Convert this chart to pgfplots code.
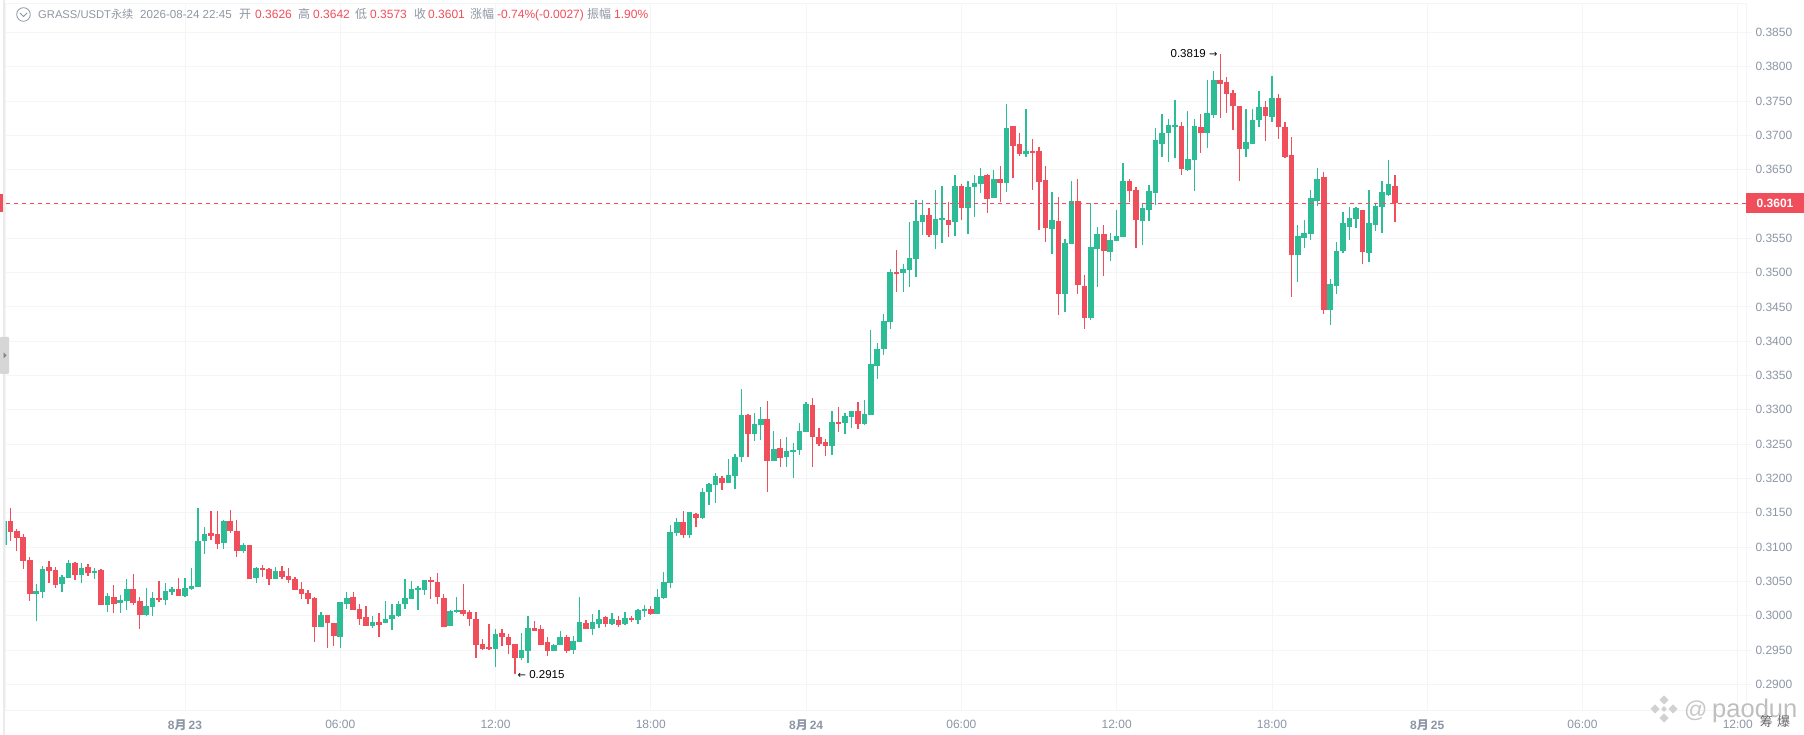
\documentclass[border=0pt]{standalone}
\usepackage{fontspec}
\usepackage{pgfplots}
\usepackage{pgfplotstable}
\pgfplotsset{compat=1.18}
\setmainfont{Liberation Sans}
\newfontfamily\cjk{Noto Sans CJK SC}
\newfontfamily\djv{DejaVu Sans}
\definecolor{upc}{HTML}{2DBD96}
\definecolor{dnc}{HTML}{F14E5B}
\definecolor{gridc}{HTML}{F4F5F6}
\definecolor{labc}{HTML}{8C96A6}
\definecolor{hdrc}{HTML}{8F97A3}
% i open high low close
\pgfplotstableread{
i o h l c
0 .3103 .3138 .3103 .3138
5 .3032 .3046 .2992 .3036
6 .3035 .3072 .3026 .3068
9 .3046 .3059 .3035 .3056
10 .3055 .3081 .3055 .3077
12 .3059 .3077 .3048 .3070
14 .3062 .3069 .3054 .3065
16 .3016 .3033 .3006 .3029
18 .3019 .3030 .3004 .3023
19 .3022 .3054 .3008 .3039
22 .3001 .3040 .3000 .3014
23 .3013 .3034 .3000 .3026
25 .3023 .3048 .3016 .3036
26 .3035 .3042 .3030 .3039
28 .3029 .3055 .3027 .3040
29 .3039 .3070 .3037 .3043
30 .3042 .3157 .3042 .3109
31 .3109 .3129 .3090 .3119
34 .3106 .3139 .3097 .3138
37 .3094 .3106 .3091 .3103
39 .3055 .3071 .3048 .3070
42 .3054 .3071 .3054 .3065
49 .2984 .3005 .2984 .3001
52 .2969 .3020 .2953 .3020
53 .3017 .3035 .3010 .3026
57 .2985 .3000 .2982 .2991
59 .2989 .3021 .2989 .2995
60 .2995 .3017 .2979 .3001
61 .3000 .3021 .2998 .3017
62 .3017 .3054 .3010 .3026
63 .3024 .3051 .3024 .3039
64 .3038 .3044 .3008 .3041
65 .3038 .3052 .3030 .3052
69 .2985 .3008 .2985 .3007
70 .3005 .3027 .3004 .3008
76 .2951 .2980 .2925 .2973
80 .2938 .2975 .2935 .2950
81 .2948 .3000 .2931 .2982
85 .2948 .2959 .2948 .2957
86 .2957 .2978 .2957 .2969
88 .2950 .2970 .2944 .2963
89 .2962 .3027 .2962 .2991
91 .2981 .3003 .2972 .2991
92 .2988 .3008 .2982 .2995
94 .2988 .3004 .2986 .2995
96 .2988 .3005 .2986 .2997
98 .2994 .3010 .2988 .3008
99 .3007 .3016 .2998 .3010
101 .3003 .3039 .3003 .3027
102 .3026 .3064 .3024 .3049
103 .3047 .3132 .3040 .3122
104 .3120 .3143 .3116 .3136
106 .3117 .3151 .3113 .3151
108 .3143 .3186 .3141 .3180
109 .3180 .3194 .3161 .3192
110 .3190 .3208 .3164 .3203
112 .3194 .3228 .3194 .3205
113 .3203 .3235 .3185 .3232
114 .3231 .3331 .3224 .3292
116 .3265 .3295 .3254 .3279
117 .3278 .3304 .3256 .3286
119 .3225 .3269 .3225 .3243
121 .3231 .3260 .3216 .3240
122 .3238 .3251 .3201 .3241
123 .3241 .3281 .3234 .3269
124 .3267 .3311 .3267 .3308
128 .3248 .3299 .3234 .3282
130 .3281 .3295 .3265 .3291
131 .3289 .3299 .3273 .3299
133 .3279 .3314 .3278 .3294
134 .3293 .3416 .3293 .3367
135 .3364 .3398 .3345 .3389
136 .3389 .3440 .3380 .3429
137 .3428 .3505 .3418 .3501
139 .3499 .3512 .3472 .3505
140 .3504 .3573 .3479 .3521
141 .3520 .3605 .3493 .3575
142 .3573 .3605 .3555 .3584
144 .3555 .3621 .3534 .3578
145 .3576 .3626 .3543 .3579
147 .3573 .3642 .3553 .3626
149 .3594 .3633 .3556 .3624
150 .3624 .3642 .3581 .3630
151 .3629 .3652 .3616 .3640
153 .3608 .3649 .3608 .3637
155 .3630 .3745 .3617 .3710
158 .3672 .3739 .3669 .3677
162 .3563 .3617 .3527 .3576
164 .3469 .3549 .3443 .3543
165 .3541 .3633 .3541 .3604
168 .3434 .3601 .3431 .3537
169 .3534 .3567 .3479 .3556
171 .3530 .3557 .3517 .3547
172 .3546 .3591 .3546 .3553
173 .3552 .3659 .3552 .3633
176 .3575 .3601 .3540 .3594
177 .3591 .3627 .3575 .3619
178 .3616 .3710 .3598 .3693
179 .3688 .3731 .3668 .3703
180 .3703 .3723 .3661 .3715
181 .3712 .3751 .3667 .3715
183 .3649 .3736 .3648 .3665
184 .3664 .3723 .3619 .3713
186 .3704 .3780 .3681 .3732
187 .3729 .3793 .3725 .3780
192 .3680 .3739 .3668 .3690
193 .3688 .3738 .3687 .3722
194 .3722 .3764 .3712 .3741
196 .3726 .3787 .3719 .3755
200 .3525 .3570 .3486 .3553
201 .3551 .3576 .3536 .3557
202 .3556 .3620 .3548 .3608
203 .3604 .3652 .3597 .3636
205 .3445 .3490 .3424 .3483
206 .3481 .3544 .3469 .3532
207 .3531 .3588 .3528 .3572
208 .3567 .3595 .3547 .3579
209 .3578 .3595 .3565 .3594
211 .3528 .3621 .3516 .3572
212 .3569 .3601 .3561 .3597
213 .3595 .3633 .3558 .3617
214 .3613 .3664 .3611 .3629
}\upTable
\pgfplotstableread{
i o h l c
1 .3138 .3157 .3109 .3122
2 .3123 .3126 .3094 .3113
3 .3115 .3119 .3068 .3080
4 .3081 .3085 .3022 .3032
7 .3071 .3080 .3048 .3065
8 .3067 .3071 .3041 .3045
11 .3077 .3078 .3052 .3059
13 .3071 .3075 .3058 .3062
15 .3067 .3068 .3016 .3016
17 .3027 .3045 .3004 .3017
20 .3039 .3061 .3016 .3019
21 .3022 .3027 .2981 .3001
24 .3026 .3051 .3020 .3023
27 .3039 .3055 .3029 .3029
32 .3120 .3152 .3110 .3116
33 .3119 .3152 .3097 .3104
35 .3138 .3154 .3120 .3123
36 .3123 .3139 .3086 .3094
38 .3103 .3103 .3054 .3054
40 .3070 .3074 .3056 .3067
41 .3068 .3070 .3045 .3054
43 .3065 .3072 .3054 .3056
44 .3058 .3070 .3048 .3052
45 .3054 .3056 .3038 .3038
46 .3039 .3049 .3024 .3032
47 .3033 .3038 .3017 .3024
48 .3026 .3027 .2962 .2984
50 .3001 .3001 .2953 .2990
51 .2990 .2990 .2956 .2971
54 .3027 .3034 .3008 .3008
55 .3010 .3017 .2986 .2995
56 .2998 .3014 .2985 .2985
58 .2991 .3004 .2969 .2986
66 .3052 .3056 .3024 .3049
67 .3049 .3063 .3017 .3027
68 .3026 .3032 .2984 .2984
71 .3008 .3046 .3000 .3003
72 .3005 .3008 .2985 .2995
73 .2995 .3005 .2938 .2957
74 .2959 .2966 .2950 .2951
75 .2954 .2988 .2950 .2951
77 .2975 .2981 .2956 .2969
78 .2969 .2973 .2944 .2957
79 .2959 .2959 .2915 .2938
82 .2982 .2992 .2978 .2978
83 .2981 .2986 .2957 .2957
84 .2962 .2969 .2941 .2948
87 .2969 .2972 .2946 .2948
90 .2989 .2994 .2981 .2981
93 .2998 .3000 .2984 .2988
95 .2994 .3000 .2984 .2986
97 .2997 .3000 .2991 .2994
100 .3010 .3014 .3001 .3003
105 .3136 .3152 .3114 .3117
107 .3148 .3149 .3130 .3142
111 .3200 .3203 .3183 .3194
115 .3292 .3294 .3231 .3265
118 .3286 .3313 .3181 .3225
120 .3244 .3257 .3217 .3230
125 .3307 .3317 .3217 .3260
126 .3260 .3273 .3247 .3250
127 .3253 .3257 .3233 .3248
129 .3282 .3304 .3268 .3279
132 .3299 .3311 .3272 .3279
138 .3501 .3533 .3472 .3498
143 .3584 .3594 .3552 .3555
146 .3576 .3603 .3552 .3570
148 .3626 .3629 .3576 .3594
152 .3642 .3643 .3587 .3607
154 .3636 .3655 .3603 .3630
156 .3713 .3713 .3638 .3685
157 .3687 .3704 .3670 .3672
159 .3677 .3694 .3621 .3674
160 .3677 .3683 .3562 .3632
161 .3635 .3655 .3544 .3565
163 .3575 .3610 .3438 .3469
166 .3604 .3637 .3469 .3482
167 .3480 .3496 .3418 .3434
170 .3556 .3569 .3495 .3531
174 .3633 .3637 .3603 .3619
175 .3620 .3624 .3536 .3576
182 .3713 .3720 .3642 .3651
185 .3712 .3731 .3674 .3704
188 .3780 .3819 .3725 .3774
189 .3777 .3785 .3732 .3760
190 .3761 .3766 .3707 .3742
191 .3742 .3742 .3633 .3680
195 .3741 .3750 .3691 .3728
197 .3754 .3760 .3694 .3712
198 .3712 .3720 .3667 .3669
199 .3671 .3697 .3464 .3525
204 .3639 .3646 .3440 .3445
210 .3591 .3591 .3513 .3530
215 .3626 .3642 .3573 .3601
}\dnTable
\begin{document}
\begin{tikzpicture}[x=1pt,y=1pt]
\path[use as bounding box,fill=white] (0,0) rectangle (1804,735);
\begin{axis}[
  at={(5.5pt,25pt)},anchor=south west,
  scale only axis,width=1740.5pt,height=706.5pt,
  xmin=0.258,xmax=269.27,ymin=0.28627,ymax=0.3892,
  xtick={28,52,76,100,124,148,172,196,220,244,268},
  xticklabels={{\bfseries 8{\cjk\bfseries 月}\,23},06:00,12:00,18:00,{\bfseries 8{\cjk\bfseries 月}\,24},06:00,12:00,18:00,{\bfseries 8{\cjk\bfseries 月}\,25},06:00,12:00},
  ytick={0.29,0.295,0.30,0.305,0.31,0.315,0.32,0.325,0.33,0.335,0.34,0.345,0.35,0.355,0.36,0.365,0.37,0.375,0.38,0.385},
  scaled y ticks=false,
  yticklabel style={/pgf/number format/.cd,fixed,fixed zerofill,precision=4,assume math mode=true},
  xtick pos=bottom,ytick pos=right,yticklabel pos=right,tick align=outside,
  major tick length=6pt,
  x tick style={draw=none},
  y tick style={draw=gridc,line width=0.8pt},
  grid=major,grid style={draw=gridc,line width=0.8pt},
  axis line style={draw=gridc,line width=0.8pt},
  tick label style={font=\fontsize{12}{14}\selectfont,text=labc},
  xticklabel style={yshift=-0.5pt},
  clip=true,
  wick/.style={draw=none,mark=none,forget plot,error bars/.cd,y dir=both,y explicit,error mark=none,error bar style={line width=1.3pt,draw=#1,solid}},
  body/.style={draw=none,mark=none,forget plot,error bars/.cd,y dir=minus,y explicit,error mark=none,error bar style={line width=5.6pt,draw=#1,solid}},
]
\addplot[wick=upc] table[x=i,y=c,y error plus expr=\thisrow{h}-\thisrow{c},y error minus expr=\thisrow{c}-\thisrow{l}] {\upTable};
\addplot[wick=dnc] table[x=i,y=o,y error plus expr=\thisrow{h}-\thisrow{o},y error minus expr=\thisrow{o}-\thisrow{l}] {\dnTable};
\addplot[body=upc] table[x=i,y=c,y error minus expr=\thisrow{c}-\thisrow{o}] {\upTable};
\addplot[body=dnc] table[x=i,y=o,y error minus expr=\thisrow{o}-\thisrow{c}] {\dnTable};
\addplot[dnc,line width=0.8pt,dash pattern=on 4pt off 4pt,forget plot] coordinates {(0.258,0.3601)(269.27,0.3601)};
\node[anchor=east,font=\fontsize{11.5}{13}\selectfont,inner sep=0pt] at (axis cs:187.6,0.3819) {0.3819 {\djv\fontsize{10}{12}\selectfont →}};
\node[anchor=west,font=\fontsize{11.5}{13}\selectfont,inner sep=0pt] at (axis cs:79.4,0.2915) {{\djv\fontsize{10}{12}\selectfont ←} 0.2915};
\end{axis}
% price tag and side markers
\fill[dnc] (1746,522.3) rectangle (1804,542.3);
\node[text=white,font=\fontsize{12}{14}\selectfont\bfseries] at (1775,532) {0.3601};
\fill[dnc] (0,523) rectangle (2.5,541);
\fill[black!8] (3,0) rectangle (5.3,735);
\fill[black!16,rounded corners=1pt] (0,361) rectangle (9,398);
\fill[black!50] (3.5,376.5) -- (6.5,379.5) -- (3.5,382.5) -- cycle;
% header
\draw[hdrc,line width=0.8pt] (23.5,720.5) circle (6.8);
\draw[hdrc,line width=0.8pt] (20,722) -- (23.5,718.5) -- (27,722);
\begin{scope}[every node/.style={anchor=base west,inner sep=0pt,font=\fontsize{12}{14}\selectfont,text=hdrc}]
\node[font=\fontsize{11.2}{13}\selectfont] at (38,716.5) {GRASS/USDT{\cjk 永续}};
\node[font=\fontsize{11.6}{13}\selectfont] at (140,716.5) {2026-08-24 22:45};
\node at (239,716.5) {\cjk 开};
\node[text=dnc] at (255,716.5) {0.3626};
\node at (298,716.5) {\cjk 高};
\node[text=dnc] at (313,716.5) {0.3642};
\node at (355,716.5) {\cjk 低};
\node[text=dnc] at (370,716.5) {0.3573};
\node at (414,716.5) {\cjk 收};
\node[text=dnc] at (428,716.5) {0.3601};
\node at (470,716.5) {\cjk 涨幅};
\node[text=dnc] at (497,716.5) {-0.74\%(-0.0027)};
\node at (587,716.5) {\cjk 振幅};
\node[text=dnc] at (614,716.5) {1.90\%};
\end{scope}
% watermark
\begin{scope}[shift={(1664,26)},black!18]
\foreach \a/\b in {0/9,0/-9,9/0,-9/0}{\fill[rotate around={45:(\a,\b)}] (\a-3.2,\b-3.2) rectangle (\a+3.2,\b+3.2);}
\fill[rotate=45] (-2,-2) rectangle (2,2);
\end{scope}
\node[anchor=base west,inner sep=0pt,text=black!22,font=\fontsize{23}{26}\selectfont] at (1684,17) {@};
\node[anchor=base west,inner sep=0pt,text=black!25,font=\fontsize{25.5}{28}\selectfont] at (1712,17) {paodun};
\node[anchor=center,text=black!60,font=\fontsize{13}{15}\selectfont\cjk] at (1775,13) {筹\,\,爆};
\end{tikzpicture}
\end{document}
